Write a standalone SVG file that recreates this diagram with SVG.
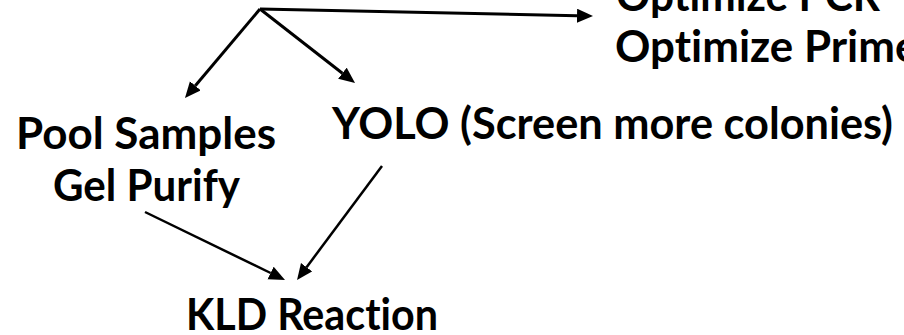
<svg xmlns="http://www.w3.org/2000/svg" width="904" height="335" viewBox="0 0 904 335">
<style>
.lbl{font-family:Lato,"Liberation Sans",sans-serif;font-weight:bold;font-size:44px;fill:#000;font-variant-ligatures:none;font-feature-settings:"liga" 0}
.c{stroke:#000;stroke-width:3;fill:none;marker-end:url(#ah)}
.c2{stroke:#000;stroke-width:2.5;fill:none;marker-end:url(#ah)}
</style>
<defs>
<marker id="ah" markerUnits="userSpaceOnUse" markerWidth="17" markerHeight="15" refX="0" refY="7" orient="auto">
<path d="M0,0 L16,7 L0,14 Z" fill="#000"/>
</marker>
</defs>
<rect width="904" height="335" fill="#fff"/>
<g id="connectors">
<line class="c" x1="260" y1="9" x2="577" y2="15.7"/>
<line class="c" x1="260" y1="9" x2="195.3" y2="85.8"/>
<line class="c" x1="260" y1="9" x2="342.4" y2="73.2"/>
<line class="c2" x1="145" y1="212" x2="270.6" y2="273"/>
<line class="c2" x1="382" y1="166" x2="306.6" y2="267.2"/>
</g>
<g id="optimize">
<text class="lbl" x="616" y="11" textLength="264" lengthAdjust="spacingAndGlyphs">Optimize PCR</text>
<text class="lbl" x="615" y="62" textLength="339" lengthAdjust="spacingAndGlyphs">Optimize Primers</text>
</g>
<g id="pool">
<text class="lbl" x="16" y="149" textLength="260" lengthAdjust="spacingAndGlyphs">Pool Samples</text>
<text class="lbl" x="53" y="201" textLength="187" lengthAdjust="spacingAndGlyphs">Gel Purify</text>
</g>
<g id="yolo">
<text class="lbl" x="332" y="139" textLength="561" lengthAdjust="spacingAndGlyphs">YOLO (Screen more colonies)</text>
</g>
<g id="kld">
<text class="lbl" x="186" y="330" textLength="252" lengthAdjust="spacingAndGlyphs">KLD Reaction</text>
</g>
</svg>
